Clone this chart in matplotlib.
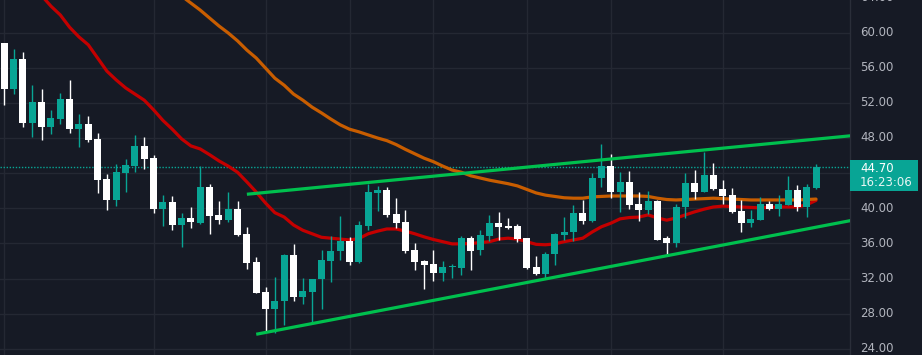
import numpy as np
import matplotlib
matplotlib.use("Agg")
import matplotlib.pyplot as plt
import matplotlib.transforms as mtransforms
from matplotlib.patches import Rectangle

# ---------------- data ----------------
opens = [58.8, 53.6, 57.0, 49.7, 52.1, 49.3, 50.2, 52.4, 49.05, 49.6,
         47.9, 43.3, 41.0, 44.05, 44.85, 47.1, 45.7, 39.95, 40.7, 38.1,
         38.9, 38.35, 42.4, 39.2, 38.7, 39.9, 37.1, 33.9, 30.5, 28.5,
         29.4, 34.7, 29.95, 30.5, 31.9, 34.05, 35.1, 36.3, 33.9, 38.0,
         41.75, 42.1, 39.35, 38.45, 35.25, 34.0, 33.7, 32.65, 33.3, 33.2,
         36.6, 35.25, 36.85, 38.35, 37.95, 38.0, 36.6, 33.35, 32.55, 34.75,
         37.0, 37.25, 39.45, 38.5, 43.4, 44.8, 41.9, 43.0, 40.45, 39.85,
         40.8, 36.65, 36.1, 40.1, 42.9, 41.8, 43.8, 42.2, 41.5, 39.7,
         38.35, 38.7, 40.5, 39.9, 40.4, 42.1, 40.15, 42.3]
highs = [58.8, 58.1, 57.8, 54.0, 53.6, 51.2, 53.1, 54.6, 50.7, 50.5,
         48.6, 43.9, 45.0, 45.6, 48.3, 48.1, 46.1, 41.5, 41.4, 39.5,
         40.1, 44.8, 42.8, 40.8, 41.85, 40.8, 37.9, 34.45, 31.0, 32.2,
         34.8, 35.9, 32.05, 32.0, 35.25, 36.85, 39.1, 36.7, 38.55, 42.75,
         42.55, 42.4, 41.2, 39.8, 36.05, 34.1, 35.25, 34.0, 33.65, 36.85,
         36.85, 37.5, 39.25, 39.6, 38.9, 38.2, 36.6, 34.6, 35.0, 37.2,
         39.0, 40.4, 40.95, 44.0, 47.3, 46.2, 44.15, 44.25, 41.85, 41.95,
         40.9, 36.8, 40.5, 44.0, 44.35, 46.4, 45.15, 43.2, 42.3, 40.95,
         39.8, 41.3, 40.8, 41.5, 43.7, 42.65, 42.75, 45.0]
lows = [51.8, 53.0, 49.25, 48.15, 47.8, 48.4, 49.6, 48.6, 47.0, 47.5,
        41.7, 39.85, 40.3, 41.8, 44.15, 44.5, 39.5, 38.0, 37.55, 35.6,
        37.8, 38.25, 37.1, 38.25, 38.4, 36.8, 33.1, 30.4, 26.0, 25.85,
        26.75, 29.5, 29.15, 27.0, 28.6, 31.65, 34.15, 33.6, 33.8, 37.5,
        39.7, 39.0, 37.75, 34.9, 33.0, 30.8, 31.7, 31.7, 32.1, 32.4,
        33.0, 34.7, 36.3, 36.4, 37.7, 36.2, 33.1, 32.45, 32.1, 33.5,
        36.4, 36.3, 38.25, 38.45, 42.45, 41.2, 39.6, 39.95, 38.6, 39.4,
        36.4, 34.6, 35.65, 38.95, 41.1, 41.8, 42.1, 40.5, 39.5, 37.3,
        37.9, 38.7, 39.8, 39.1, 40.4, 39.7, 39.0, 42.2]
closes = [53.6, 57.0, 49.7, 52.1, 49.3, 50.3, 52.4, 49.05, 49.6, 47.8,
          43.25, 41.0, 44.1, 44.9, 47.1, 45.6, 39.95, 40.7, 38.1, 38.9,
          38.4, 42.4, 39.15, 38.7, 39.9, 36.95, 33.8, 30.4, 28.5, 29.45,
          34.7, 29.95, 30.6, 32.0, 34.1, 35.15, 36.3, 33.9, 38.1, 41.85,
          42.1, 39.2, 38.3, 35.15, 33.9, 33.55, 32.65, 33.3, 33.35, 36.6,
          35.15, 36.95, 38.35, 37.9, 37.8, 36.55, 33.25, 32.55, 34.8, 37.1,
          37.3, 39.45, 38.5, 43.45, 44.8, 41.9, 43.0, 40.4, 39.85, 40.8,
          36.45, 36.1, 40.15, 42.9, 41.8, 43.8, 42.2, 41.4, 39.6, 38.35,
          38.8, 40.5, 39.9, 40.5, 42.1, 40.15, 42.4, 44.7]

ma_fast = [None] * 3 + [
    65.3, 64.2, 63.0, 62.0, 60.6, 59.5, 58.6, 57.1, 55.6, 54.6,
    53.7, 53.0, 52.3, 51.2, 50.0, 49.0, 47.9, 47.1, 46.75, 46.1,
    45.4, 44.8, 44.1, 43.0, 41.85, 40.6, 39.5, 39.0, 38.1, 37.5,
    37.1, 36.7, 36.6, 36.5, 36.4, 36.55, 37.1, 37.4, 37.65, 37.65,
    37.4, 37.1, 36.75, 36.45, 36.2, 35.95, 35.95, 36.0, 36.1, 36.2,
    36.5, 36.6, 36.5, 36.2, 35.9, 35.85, 35.95, 36.2, 36.4, 36.6,
    37.3, 37.9, 38.3, 38.8, 38.95, 39.0, 39.25, 38.9, 38.65, 38.9,
    39.25, 39.6, 39.9, 40.15, 40.25, 40.2, 40.15, 40.1, 40.05, 40.1,
    40.15, 40.15, 40.15, 40.4, 40.9]
ma_slow = [None] * 18 + [
    64.95, 64.15, 63.35, 62.55, 61.65, 60.75, 59.95, 59.05, 58.0, 57.1,
    55.95, 54.8, 54.0, 53.0, 52.3, 51.5, 50.85, 50.15, 49.5, 49.0,
    48.7, 48.35, 48.0, 47.7, 47.25, 46.7, 46.2, 45.7, 45.3, 44.8,
    44.35, 44.1, 43.7, 43.45, 43.2, 43.0, 42.8, 42.55, 42.15, 41.75,
    41.5, 41.35, 41.2, 41.15, 41.15, 41.3, 41.35, 41.4, 41.4, 41.4,
    41.4, 41.35, 41.15, 41.0, 40.95, 41.0, 41.05, 41.1, 41.15, 41.1,
    41.05, 41.0, 40.95, 40.95, 40.95, 40.95, 40.95, 40.95, 41.0, 41.05]

upper_trend_x = [26, 90.7]
upper_trend_y = [41.6, 48.25]
lower_trend_x = [27, 90.7]
lower_trend_y = [25.67, 38.6]

price_ticks = [24, 28, 32, 36, 40, 44, 48, 52, 56, 60, 64]
time_grid_idx = [0, 16, 28, 37, 46, 56, 65, 77]
last_price = 44.70
countdown = "16:23:06"

# ---------------- style ----------------
BG = "#161a25"
GRID = "#242833"
UP = "#08a595"
DOWN = "#ffffff"
RED = "#c40000"
ORANGE = "#c85d00"
GREEN = "#00c04e"
TXT = "#b2b5be"

W, H = 922, 355
fig = plt.figure(figsize=(W / 100, H / 100), dpi=100)
fig.patch.set_facecolor(BG)
plot_w = 850
ax = fig.add_axes([0, 0, plot_w / W, 1])
ax.set_facecolor(BG)

n = len(opens)
idx = np.arange(n)
step_px = 9.33
x0 = -4.3 / step_px
ax.set_xlim(x0, x0 + plot_w / step_px)
ax.set_ylim(23.31, 63.70)

# grid
for t in price_ticks:
    ax.axhline(t, color=GRID, lw=1.0, zorder=0)
for g in time_grid_idx:
    ax.axvline(g, color=GRID, lw=1.0, zorder=0)

# current price dotted line
ax.axhline(last_price, color=UP, lw=1.0, linestyle=(0, (1, 1.2)), zorder=1)

# moving averages
fast = np.array([np.nan if v is None else v for v in ma_fast], dtype=float)
slow = np.array([np.nan if v is None else v for v in ma_slow], dtype=float)
ax.plot(idx, fast, color=RED, lw=2.3, zorder=2, solid_capstyle="round")
ax.plot(idx, slow, color=ORANGE, lw=2.3, zorder=2, solid_capstyle="round")

# candles
o = np.array(opens); h = np.array(highs); l = np.array(lows); c = np.array(closes)
up = c >= o
cols = [UP if u else DOWN for u in up]
ax.vlines(idx, l, h, colors=cols, lw=1.0, zorder=3)
bottoms = np.minimum(o, c)
heights = np.maximum(np.abs(c - o), 0.12)
ax.bar(idx, heights, bottom=bottoms, width=0.75, color=cols, linewidth=0, zorder=4)

# trend lines
ax.plot(upper_trend_x, upper_trend_y, color=GREEN, lw=2.3, zorder=5, solid_capstyle="butt")
ax.plot(lower_trend_x, lower_trend_y, color=GREEN, lw=2.3, zorder=5, solid_capstyle="butt")

for s in ["top", "left", "bottom"]:
    ax.spines[s].set_visible(False)
ax.spines["right"].set_color("#2a2e39")
ax.spines["right"].set_linewidth(1.0)
ax.set_xticks([]); ax.set_yticks([])

# price scale labels (the one hidden behind the last-price box is skipped)
trans = mtransforms.blended_transform_factory(ax.transAxes, ax.transData)
for t in price_ticks:
    if abs(t - last_price) < 2.0:
        continue
    ax.text(860 / plot_w, t, f"{t:.2f}", transform=trans, ha="left", va="center",
            color=TXT, fontsize=8.5, clip_on=False, zorder=6)

# last price label box
box_top, box_bot = 160, 190.7
fig.patches.append(Rectangle((850 / W, 1 - box_bot / H), 68 / W, (box_bot - box_top) / H,
                             transform=fig.transFigure, facecolor=UP, edgecolor="none", zorder=10))
fig.text(860 / W, 1 - 168 / H, f"{last_price:.2f}", ha="left", va="center",
         color="white", fontsize=8.5, zorder=11)
fig.text(860 / W, 1 - 183 / H, countdown, ha="left", va="center",
         color="#e8f6f4", fontsize=8.5, zorder=11)

fig.savefig("out.png", dpi=100, facecolor=BG)
